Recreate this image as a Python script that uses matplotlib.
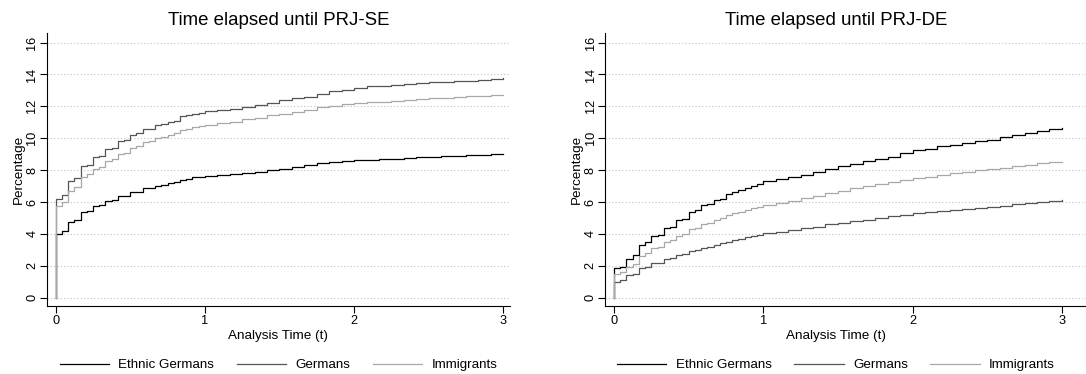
import numpy as np
import matplotlib
matplotlib.use('Agg')
import matplotlib.pyplot as plt

plt.rcParams['font.family'] = ['Liberation Sans', 'DejaVu Sans']

# analysis time in years: half-month steps in year one, monthly afterwards
times = np.concatenate([np.arange(24) / 24.0, np.arange(12, 37) / 12.0])

groups = ['Ethnic Germans', 'Germans', 'Immigrants']
colors = ['#000000', '#555555', '#a8a8a8']

# cumulative percentage, time until PRJ-SE
se_ethnic = [4.0, 4.2, 4.75, 4.9, 5.35, 5.45, 5.75, 5.8, 6.05, 6.1, 6.35, 6.4,
             6.6, 6.65, 6.85, 6.9, 7.0, 7.05, 7.2, 7.25, 7.4, 7.45, 7.55, 7.6,
             7.65, 7.7, 7.75, 7.82, 7.9, 8.0, 8.1, 8.2, 8.3, 8.42, 8.5, 8.58,
             8.62, 8.66, 8.7, 8.72, 8.76, 8.8, 8.83, 8.86, 8.9, 8.93, 8.96, 9.0, 9.04]
se_germans = [6.2, 6.45, 7.3, 7.5, 8.25, 8.35, 8.8, 8.9, 9.3, 9.4, 9.8, 9.9,
              10.2, 10.3, 10.55, 10.6, 10.8, 10.9, 11.05, 11.1, 11.4, 11.45, 11.55, 11.6,
              11.7, 11.8, 11.85, 11.95, 12.1, 12.2, 12.4, 12.5, 12.6, 12.8, 12.95, 13.05,
              13.15, 13.25, 13.3, 13.35, 13.4, 13.45, 13.5, 13.55, 13.6, 13.6, 13.65, 13.72, 13.77]
se_immigrants = [5.75, 6.0, 6.7, 6.95, 7.6, 7.75, 8.1, 8.2, 8.6, 8.7, 9.0, 9.1,
                 9.4, 9.5, 9.75, 9.85, 10.0, 10.1, 10.2, 10.3, 10.5, 10.6, 10.7, 10.75,
                 10.85, 10.95, 11.05, 11.2, 11.3, 11.45, 11.55, 11.65, 11.8, 11.95, 12.05, 12.15,
                 12.2, 12.25, 12.3, 12.35, 12.4, 12.45, 12.5, 12.55, 12.6, 12.62, 12.65, 12.7, 12.72]

# cumulative percentage, time until PRJ-DE
de_ethnic = [1.85, 1.95, 2.4, 2.65, 3.3, 3.5, 3.85, 3.95, 4.4, 4.45, 4.85, 4.95,
             5.4, 5.5, 5.8, 5.85, 6.15, 6.2, 6.5, 6.6, 6.75, 6.85, 7.0, 7.15,
             7.3, 7.45, 7.55, 7.7, 7.9, 8.1, 8.28, 8.4, 8.55, 8.7, 8.8, 9.05,
             9.27, 9.35, 9.5, 9.6, 9.7, 9.8, 9.9, 10.05, 10.2, 10.35, 10.45, 10.55, 10.63]
de_germans = [1.0, 1.1, 1.4, 1.5, 1.85, 1.95, 2.15, 2.2, 2.4, 2.5, 2.65, 2.75,
              2.9, 3.0, 3.1, 3.2, 3.3, 3.4, 3.5, 3.6, 3.7, 3.8, 3.9, 3.95,
              4.05, 4.15, 4.25, 4.35, 4.45, 4.6, 4.7, 4.8, 4.9, 5.0, 5.1, 5.2,
              5.3, 5.35, 5.42, 5.5, 5.56, 5.62, 5.7, 5.78, 5.85, 5.92, 6.0, 6.05, 6.1]
de_immigrants = [1.5, 1.6, 1.9, 2.1, 2.6, 2.8, 3.1, 3.2, 3.5, 3.6, 3.9, 4.0,
                 4.3, 4.4, 4.6, 4.7, 4.9, 5.0, 5.2, 5.3, 5.4, 5.5, 5.6, 5.7,
                 5.8, 5.95, 6.05, 6.23, 6.4, 6.55, 6.7, 6.85, 7.0, 7.15, 7.25, 7.4,
                 7.5, 7.6, 7.7, 7.8, 7.9, 8.0, 8.05, 8.15, 8.25, 8.35, 8.42, 8.5, 8.54]

W, H = 1086.0, 374.0
fig = plt.figure(figsize=(W / 100, H / 100), dpi=100)

def panel(x0, x1, xmax, title, title_x, series):
    ax = fig.add_axes([x0 / W, (H - 306) / H, (x1 - x0) / W, 273 / H])
    for vals, c, lab in zip(series, colors, groups):
        t = np.concatenate([[0.0], times])
        y = np.concatenate([[0.0], vals])
        ax.plot(t, y, drawstyle='steps-post', color=c, lw=0.9, label=lab)
    ax.set_xlim(-0.058, xmax)
    ax.set_ylim(-0.52, 16.6)
    ax.set_yticks(np.arange(0, 17, 2))
    ax.set_xticks([0, 1, 2, 3])
    ax.yaxis.grid(True, linestyle=(0, (1, 2)), color='#c0c0c0', lw=0.8)
    ax.set_axisbelow(True)
    for s in ['top', 'right']:
        ax.spines[s].set_visible(False)
    ax.tick_params(labelsize=9.2, length=5, width=0.8)
    ax.tick_params(axis='y', pad=1.2)
    ax.tick_params(axis='x', pad=1.5)
    plt.setp(ax.get_yticklabels(), rotation=90, va='center')
    ax.set_ylabel('Percentage', fontsize=9.7)
    ax.yaxis.set_label_coords(-22.2 / (x1 - x0), 0.5)
    ax.set_xlabel('Analysis Time (t)', fontsize=9.7, labelpad=2, x=title_x)
    ax.set_title(title, fontsize=13.4, x=title_x, pad=6)
    cx = x0 + title_x * (x1 - x0)
    ax.legend(loc='center', bbox_to_anchor=(cx / W, (H - 365) / H),
              bbox_transform=fig.transFigure, ncol=3, frameon=False,
              fontsize=9.6, handlelength=3.7, handletextpad=0.7,
              columnspacing=1.7)
    return ax

panel(47, 510, 3.045, 'Time elapsed until PRJ-SE', 0.5,
      [se_ethnic, se_germans, se_immigrants])
panel(605.3, 1090, (1090 - 614) / 149.3, 'Time elapsed until PRJ-DE',
      (836 - 605.3) / (1090 - 605.3), [de_ethnic, de_germans, de_immigrants])

fig.savefig('out.png', dpi=100)
